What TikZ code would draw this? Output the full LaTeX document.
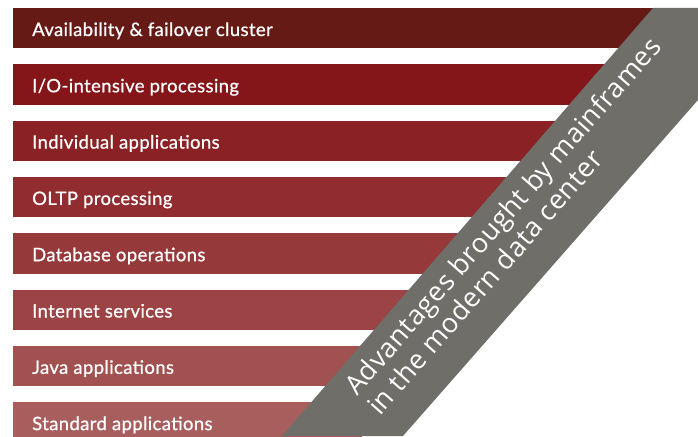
\documentclass[tikz,border=0pt]{standalone}
\usepackage{fontspec}
\setmainfont{Lato}[FakeBold=0.8, LetterSpace=2]
\newfontfamily\bandfont{Open Sans}[LetterSpace=2]
\usepackage{tikz}

\definecolor{barA}{HTML}{661A16}
\definecolor{barB}{HTML}{84161A}
\definecolor{barC}{HTML}{8A2124}
\definecolor{barD}{HTML}{912D31}
\definecolor{barE}{HTML}{96393B}
\definecolor{barF}{HTML}{9B4345}
\definecolor{barG}{HTML}{A25151}
\definecolor{barH}{HTML}{A95E5E}
\definecolor{bandgrey}{HTML}{6F6E68}

\begin{document}
\begin{tikzpicture}[x=1pt, y=-1pt,
    bartext/.style={anchor=base west, inner sep=0pt, text=white, font=\fontsize{18.5}{20}\selectfont},
    bandtext/.style={anchor=base west, inner sep=0pt, text=white, rotate=48.8, font=\bandfont\fontsize{27}{30}\selectfont}]
    \useasboundingbox (0, 0) rectangle (698, 436);
    \clip (0, 0) rectangle (698, 436);

    % Bars
    \fill[barA] (13, 8) rectangle (698, 48.5);
    \fill[barB] (13, 64.3) rectangle (654, 104.8);
    \fill[barC] (13, 120.6) rectangle (605, 161.1);
    \fill[barD] (13, 176.9) rectangle (557, 217.4);
    \fill[barE] (13, 233.2) rectangle (508, 273.7);
    \fill[barF] (13, 289.5) rectangle (460, 330);
    \fill[barG] (13, 345.8) rectangle (411, 386.3);
    \fill[barH] (13, 402.1) rectangle (362, 442.6);

    % Labels
    \node[bartext] (avail) at (32, 36) {Availability \& failover cluster};
    \node[bartext] (io) at (32, 92.3) {I/O-intensive processing};
    \node[bartext] (indiv) at (32, 148.6) {Individual applications};
    \node[bartext] (oltp) at (32, 204.9) {OLTP processing};
    \node[bartext] (db) at (32, 261.2) {Database operations};
    \node[bartext] (inet) at (32, 317.5) {Internet services};
    \node[bartext] (java) at (32, 373.8) {Java applications};
    \node[bartext] (std) at (32, 430.1) {Standard applications};

    % Band
    \fill[bandgrey] (282, 436) -- (653, 8) -- (698, 8) -- (698, 100) -- (403, 436) -- cycle;
    \node[bandtext] (adv) at (357, 397) {Advantages brought by mainframes};
    \node[bandtext] (dc) at (380, 417) {in the modern data center};
\end{tikzpicture}
\end{document}
